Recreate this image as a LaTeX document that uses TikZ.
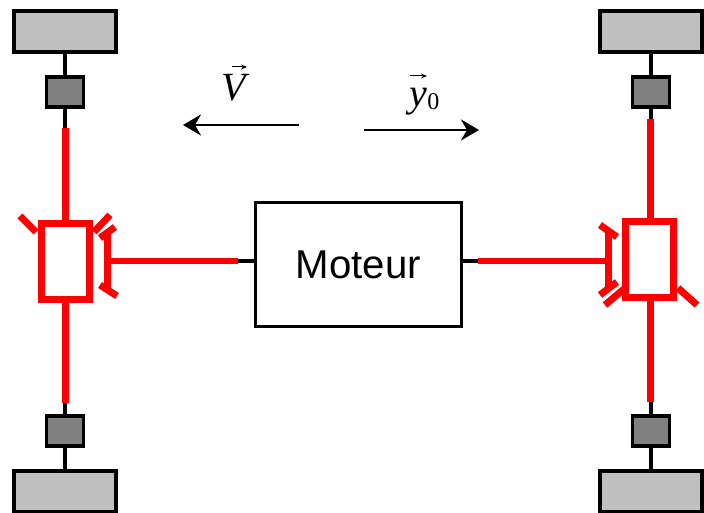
\documentclass[tikz,border=0pt]{standalone}
\usepackage{fontspec}
\setmainfont{Liberation Sans}
\newfontfamily\timesf{Liberation Serif}
\tikzset{
  wheel/.style={draw=black,line width=3.6pt,fill=wheelgray,minimum width=102pt,minimum height=41pt,inner sep=0pt},
  hub/.style={draw=black,line width=3.6pt,fill=hubgray,minimum width=37pt,minimum height=30pt,inner sep=0pt},
  diff/.style={draw=diffred,line width=7pt,minimum width=48pt,minimum height=75pt,inner sep=0pt},
  motor/.style={draw=black,line width=2.8pt,minimum width=205.5pt,minimum height=124pt,inner sep=0pt,font=\fontsize{40.2}{40.2}\selectfont},
  axle/.style={draw=diffred,line width=7pt},
  shaft/.style={draw=diffred,line width=6pt},
  tick/.style={draw=diffred,line width=7pt},
  blackl/.style={draw=black,line width=3.6pt},
  dirarrow/.style={draw=black,line width=2.5pt,-{Stealth[length=18pt,width=21pt,inset=6pt]}},
  veclabel/.style={inner sep=0pt,font=\timesf\itshape\fontsize{40}{40}\selectfont},
  vecbar/.style={draw=black,line width=1pt,-{Stealth[length=6pt,width=5pt]}}
}
\definecolor{wheelgray}{RGB}{192,192,192}
\definecolor{hubgray}{RGB}{128,128,128}
\definecolor{diffred}{RGB}{255,0,0}
\usetikzlibrary{arrows.meta}
\begin{document}
\begin{tikzpicture}[x=1pt,y=-1pt]
\useasboundingbox (0,0) rectangle (704,513);
\clip (0,0) rectangle (704,513);
% wheels and hubs
\node[wheel] (wTL) at (65,31.5) {};
\node[hub] (hTL) at (65,92) {};
\node[wheel] (wBL) at (65,491.5) {};
\node[hub] (hBL) at (65,431) {};
\node[wheel] (wTR) at (651,31.5) {};
\node[hub] (hTR) at (651,92) {};
\node[wheel] (wBR) at (651,491.5) {};
\node[hub] (hBR) at (651,431) {};
% differentials and motor
\node[diff] (dL) at (65.5,261.5) {};
\node[diff] (dR) at (649.5,259.5) {};
\node[motor] (M) at (358.5,264.5) {Moteur};
% coordinates
\coordinate (tlA) at (65,128);
\coordinate (blA) at (65,403);
\coordinate (trA) at (650,119);
\coordinate (brA) at (650,402);
\coordinate (mL) at (238,261);
\coordinate (mR) at (478,261);
\coordinate (bL) at (107,261);
\coordinate (bR) at (608,261);
% black stubs
\draw[blackl] (wTL.south) -- (hTL.north);
\draw[blackl] (hTL.south) -- (tlA);
\draw[blackl] (wBL.north) -- (hBL.south);
\draw[blackl] (hBL.north) -- (blA);
\draw[blackl] (wTR.south) -- (hTR.north);
\draw[blackl] (hTR.south) -- (hTR.south |- trA);
\draw[blackl] (wBR.north) -- (hBR.south);
\draw[blackl] (hBR.north) -- (hBR.north |- brA);
\draw[draw=black,line width=4.5pt] (M.west |- mL) -- (mL);
\draw[draw=black,line width=4.5pt] (M.east |- mR) -- (mR);
% red axles
\draw[axle] (tlA) -- (tlA |- dL.north);
\draw[axle] (blA) -- (blA |- dL.south);
\draw[axle] (trA) -- (trA |- dR.north);
\draw[axle] (brA) -- (brA |- dR.south);
\draw[shaft] (mL) -- (bL);
\draw[shaft] (mR) -- (bR);
% left differential details
\draw[tick] (20,216) -- (36,232);
\draw[tick] (110,215) -- (94,232);
\draw[tick] (115,227) -- (100,238);
\draw[tick] (107,232) -- (107,290);
\draw[tick] (100,285) -- (117,296);
% right differential details
\draw[tick] (600,225) -- (617,237);
\draw[tick] (608,231) -- (608,289);
\draw[tick] (600,295) -- (617,282);
\draw[tick] (605,305) -- (624,289);
\draw[tick] (678,288) -- (697,305);
% direction arrows
\coordinate (vs) at (299,125);
\coordinate (ve) at (183,125);
\coordinate (ys) at (364,130);
\coordinate (ye) at (479,130);
\draw[dirarrow] (vs) -- (ve);
\draw[dirarrow] (ys) -- (ye);
% labels
\node[veclabel] (lV) at (234,88) {V};
\node[veclabel,anchor=base west] (ly) at (409,107) {y\kern0.5pt\raisebox{-3pt}{\fontsize{24}{24}\selectfont\upshape 0}};
\draw[vecbar] (232,67) -- (247,67);
\draw[vecbar] (410,76) -- (427,76);
\end{tikzpicture}
\end{document}
